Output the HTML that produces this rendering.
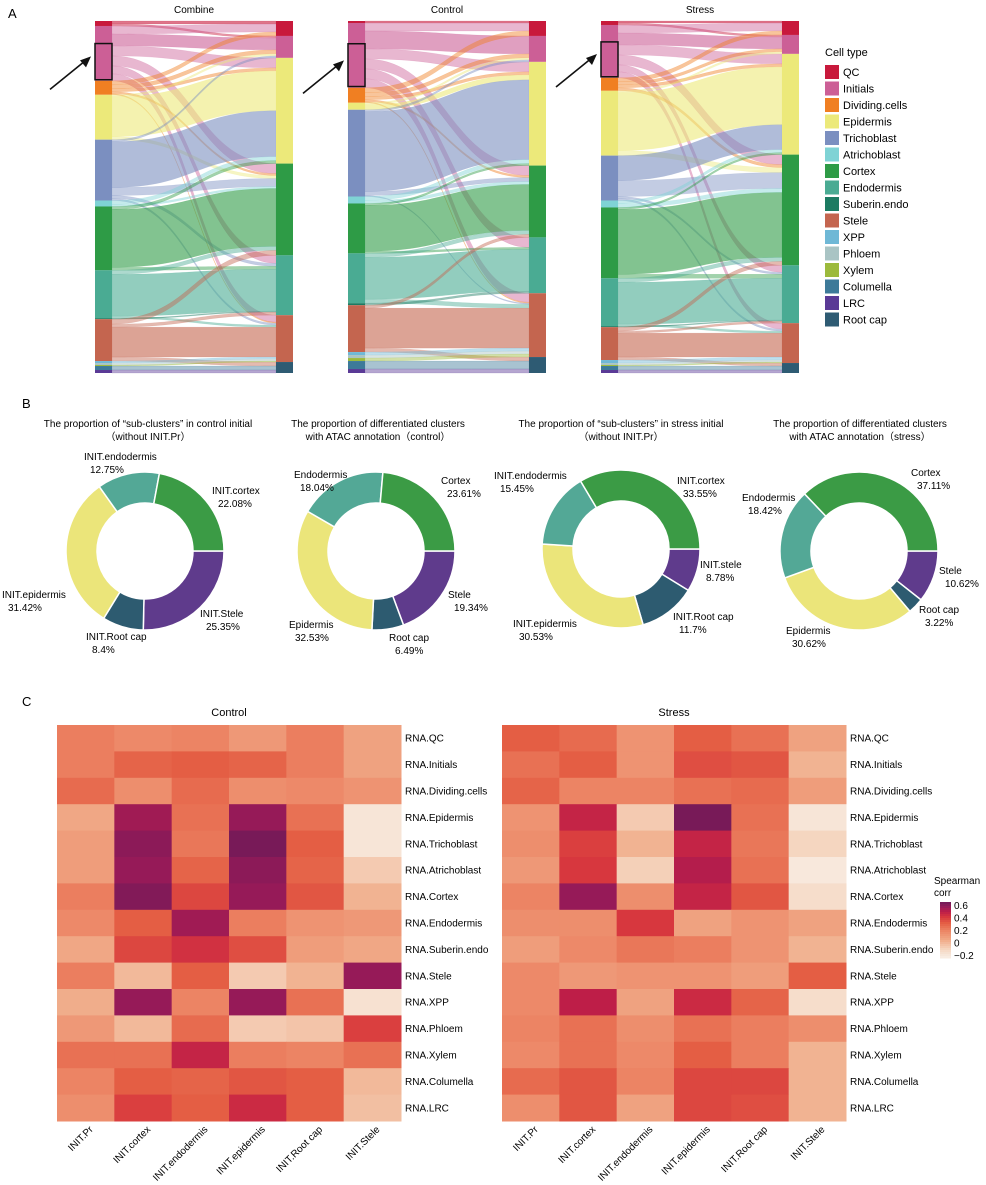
<!DOCTYPE html>
<html><head><meta charset="utf-8"><style>
html,body{margin:0;padding:0;background:#fff;}
svg{display:block;font-family:"Liberation Sans",Arial,sans-serif;}
</style></head><body>
<svg id="fig" width="986" height="1185" viewBox="0 0 986 1185" xmlns="http://www.w3.org/2000/svg">
<rect width="986" height="1185" fill="#fff"/>
<text x="8" y="18" font-size="13">A</text>
<text x="22" y="408" font-size="13">B</text>
<text x="22" y="706" font-size="13">C</text>
<g id="sankeys"></g><g id="legend"></g><g id="donuts"></g><g id="heatmaps"></g>
</svg>
<script>
const NS="http://www.w3.org/2000/svg";
function mk(tag,attrs,parent){const e=document.createElementNS(NS,tag);for(const k in attrs)e.setAttribute(k,attrs[k]);if(parent)parent.appendChild(e);return e;}
const svg=document.getElementById('fig');

// ---------- Cell type data ----------
const cellTypes=["QC","Initials","Dividing.cells","Epidermis","Trichoblast","Atrichoblast","Cortex","Endodermis","Suberin.endo","Stele","XPP","Phloem","Xylem","Columella","LRC","Root cap"];
const cellColors=["#c8193c","#cc5f96","#f07f22","#ece97a","#7b8fc0","#7fd3d5","#2e9b46","#4aab93","#1c7b62","#c4654f","#6fb8d6","#a9c4c4","#9cba3c","#3d7a99","#5a3a96","#2e5b73"];
const rightNodes=["QC","Initials","Epidermis","Cortex","Endodermis","Stele","Root cap"];

// flows: [source, target, value]
const flowsCombine=[["QC","QC",3],["QC","Initials",2],
["Initials","QC",8],["Initials","Initials",12],["Initials","Epidermis",10],["Initials","Cortex",10],["Initials","Endodermis",8],["Initials","Stele",7],
["Dividing.cells","QC",4],["Dividing.cells","Initials",4],["Dividing.cells","Epidermis",3],["Dividing.cells","Cortex",2],["Dividing.cells","Stele",1],
["Epidermis","Initials",2],["Epidermis","Epidermis",40],["Epidermis","Cortex",3],
["Trichoblast","Initials",2],["Trichoblast","Epidermis",46],["Trichoblast","Cortex",8],["Trichoblast","Endodermis",3],["Trichoblast","Stele",2],
["Atrichoblast","Epidermis",4],["Atrichoblast","Cortex",2],
["Cortex","Epidermis",3],["Cortex","Cortex",58],["Cortex","Endodermis",3],
["Endodermis","Cortex",4],["Endodermis","Endodermis",42],["Endodermis","Stele",2],
["Suberin.endo","Endodermis",1],
["Stele","Cortex",5],["Stele","Endodermis",3],["Stele","Stele",30],["Stele","Root cap",4],
["XPP","Stele",2],["Phloem","Stele",2],["Xylem","Stele",1],["Columella","Root cap",4],["LRC","Root cap",3]];
const flowsControl=[["QC","QC",2],
["Initials","QC",8],["Initials","Initials",18],["Initials","Epidermis",10],["Initials","Cortex",10],["Initials","Endodermis",10],["Initials","Stele",9],
["Dividing.cells","QC",5],["Dividing.cells","Initials",4],["Dividing.cells","Epidermis",3],["Dividing.cells","Cortex",2],["Dividing.cells","Stele",1],
["Epidermis","Initials",2],["Epidermis","Epidermis",5],
["Trichoblast","Initials",2],["Trichoblast","Epidermis",80],["Trichoblast","Cortex",4],["Trichoblast","Stele",1],
["Atrichoblast","Epidermis",4],["Atrichoblast","Cortex",3],
["Cortex","Epidermis",2],["Cortex","Cortex",46],["Cortex","Endodermis",2],
["Endodermis","Cortex",4],["Endodermis","Endodermis",42],["Endodermis","Stele",4],
["Suberin.endo","Endodermis",2],
["Stele","Cortex",3],["Stele","Stele",40],["Stele","Root cap",4],
["XPP","Stele",3],["Phloem","Stele",3],["Xylem","Stele",3],["Columella","Root cap",8],["LRC","Root cap",4]];
const flowsStress=[["QC","QC",2],["QC","Initials",2],
["Initials","QC",8],["Initials","Initials",12],["Initials","Epidermis",10],["Initials","Cortex",10],["Initials","Endodermis",7],["Initials","Stele",6],
["Dividing.cells","QC",4],["Dividing.cells","Initials",3],["Dividing.cells","Epidermis",3],["Dividing.cells","Cortex",3],
["Epidermis","Initials",2],["Epidermis","Epidermis",58],["Epidermis","Cortex",5],
["Trichoblast","Epidermis",25],["Trichoblast","Cortex",16],["Trichoblast","Endodermis",2],["Trichoblast","Stele",2],
["Atrichoblast","Epidermis",3],["Atrichoblast","Cortex",4],
["Cortex","Epidermis",2],["Cortex","Cortex",65],["Cortex","Endodermis",4],
["Endodermis","Cortex",4],["Endodermis","Endodermis",42],["Endodermis","Stele",2],
["Suberin.endo","Endodermis",1],
["Stele","Cortex",4],["Stele","Endodermis",2],["Stele","Stele",24],["Stele","Root cap",3],
["XPP","Stele",3],["Phloem","Stele",2],["Xylem","Stele",1],["Columella","Root cap",4],["LRC","Root cap",3]];
const sankeyTitles=["Combine","Control","Stress"];

// ---------- Donut data ----------
const donutTitles=[["The proportion of \u201csub-clusters\u201d in control initial","\uff08without INIT.Pr\uff09"],["The proportion of  differentiated clusters","with ATAC annotation\uff08control\uff09"],["The proportion of \u201csub-clusters\u201d in stress initial","\uff08without INIT.Pr\uff09"],["The proportion of  differentiated clusters","with ATAC annotation\uff08stress\uff09"]];
const donutLabels1=["INIT.Stele","INIT.Root cap","INIT.epidermis","INIT.endodermis","INIT.cortex"];
const donutLabels2=["Stele","Root cap","Epidermis","Endodermis","Cortex"];
const donutLabels3=["INIT.stele","INIT.Root cap","INIT.epidermis","INIT.endodermis","INIT.cortex"];
const donutValues1=[25.35,8.4,31.42,12.75,22.08];
const donutValues2=[19.34,6.49,32.53,18.04,23.61];
const donutValues3=[8.78,11.7,30.53,15.45,33.55];
const donutValues4=[10.62,3.22,30.62,18.42,37.11];
const donutColors=["#5f3b8c","#2d5b70","#ebe57a","#53a896","#3b9b45"];

// ---------- Heatmap data ----------
const hmCols=["INIT.Pr","INIT.cortex","INIT.endodermis","INIT.epidermis","INIT.Root cap","INIT.Stele"];
const hmRows=["RNA.QC","RNA.Initials","RNA.Dividing.cells","RNA.Epidermis","RNA.Trichoblast","RNA.Atrichoblast","RNA.Cortex","RNA.Endodermis","RNA.Suberin.endo","RNA.Stele","RNA.XPP","RNA.Phloem","RNA.Xylem","RNA.Columella","RNA.LRC"];
const hmControl=[
[0.22,0.18,0.2,0.12,0.22,0.08],[0.22,0.3,0.32,0.3,0.22,0.08],[0.28,0.16,0.28,0.16,0.18,0.14],
[0.06,0.56,0.26,0.58,0.26,-0.18],[0.1,0.6,0.24,0.64,0.32,-0.18],[0.1,0.58,0.3,0.6,0.3,-0.06],
[0.22,0.62,0.38,0.58,0.34,0.02],[0.18,0.32,0.56,0.22,0.14,0.12],[0.06,0.38,0.44,0.36,0.1,0.06],
[0.22,0.0,0.32,-0.06,0.02,0.58],[0.04,0.58,0.2,0.58,0.26,-0.16],[0.12,0.0,0.28,-0.06,-0.04,0.4],
[0.26,0.26,0.48,0.22,0.2,0.26],[0.2,0.32,0.3,0.34,0.32,0.0],[0.16,0.4,0.32,0.46,0.32,-0.02]];
const hmStress=[
[0.32,0.28,0.14,0.32,0.26,0.08],[0.26,0.32,0.14,0.36,0.34,0.02],[0.3,0.2,0.2,0.26,0.28,0.1],
[0.14,0.48,-0.06,0.64,0.26,-0.18],[0.16,0.4,0.02,0.48,0.24,-0.1],[0.12,0.42,-0.08,0.52,0.26,-0.2],
[0.2,0.58,0.16,0.48,0.34,-0.14],[0.16,0.16,0.42,0.08,0.14,0.08],[0.1,0.18,0.24,0.22,0.14,0.02],
[0.18,0.12,0.14,0.14,0.1,0.32],[0.18,0.5,0.08,0.46,0.3,-0.14],[0.2,0.26,0.16,0.26,0.22,0.16],
[0.18,0.26,0.18,0.32,0.22,0.02],[0.28,0.34,0.2,0.38,0.38,0.02],[0.16,0.34,0.08,0.38,0.36,0.02]];
const cbTicks=[0.6,0.4,0.2,0,-0.2];

// ---------- Sankey ----------
const colorOf=n=>cellColors[cellTypes.indexOf(n)];
function sankey(flows,x0,title,idx){
  const g=mk('g',{},document.getElementById('sankeys'));
  
  
  const top=21,H=352,nw=17,x1=x0+181;
  const total=flows.reduce((a,f)=>a+f[2],0);const k=H/total;
  const t=mk('text',{x:x0+99,y:13,'font-size':10,'text-anchor':'middle'},g);t.textContent=title;
  
  
  const lTot={},rTot={};
  flows.forEach(f=>{lTot[f[0]]=(lTot[f[0]]||0)+f[2];rTot[f[1]]=(rTot[f[1]]||0)+f[2];});
  const lY={},rY={};let y=top;
  cellTypes.forEach(n=>{if(lTot[n]){lY[n]=y;y+=lTot[n]*k;}});
  y=top;rightNodes.forEach(n=>{if(rTot[n]){rY[n]=y;y+=rTot[n]*k;}});
  const lOff={...lY};const rOff={...rY};
  const sorted=flows.slice().sort((a,b)=>rightNodes.indexOf(a[1])-rightNodes.indexOf(b[1])||cellTypes.indexOf(a[0])-cellTypes.indexOf(b[0]));
  const tgtPos=new Map();
  sorted.forEach(f=>{tgtPos.set(f,rOff[f[1]]);rOff[f[1]]+=f[2]*k;});
  flows.forEach(f=>{
    const h=f[2]*k,ys=lOff[f[0]];lOff[f[0]]+=h;const yt=tgtPos.get(f);
    const xa=x0+nw,xb=x1,mx=(xa+xb)/2;
    const p=mk('path',{d:`M${xa},${ys}C${mx},${ys} ${mx},${yt} ${xb},${yt}L${xb},${yt+h}C${mx},${yt+h} ${mx},${ys+h} ${xa},${ys+h}Z`,fill:colorOf(f[0]),'fill-opacity':f[0]===f[1]||(f[0]=='Trichoblast'&&f[1]=='Epidermis')?0.6:0.45,stroke:colorOf(f[0]),'stroke-opacity':0.25,'stroke-width':0.5},g);
    
    
  });
  cellTypes.forEach(n=>{if(lTot[n]){const r=mk('rect',{x:x0,y:lY[n],width:nw,height:lTot[n]*k,fill:colorOf(n)},g);
    
    }});
  rightNodes.forEach(n=>{if(rTot[n]){const r=mk('rect',{x:x1,y:rY[n],width:nw,height:rTot[n]*k,fill:colorOf(n)},g);
    
    }});
  const iy=lY["Initials"],ih=lTot["Initials"]*k;
  const b=mk('rect',{x:x0,y:iy+ih*0.32,width:nw,height:ih*0.66,fill:'none',stroke:'#111','stroke-width':1.5},g);
  
  
  const ay=iy+ih*0.7;
  const a=mk('path',{d:`M${x0-45},${ay+25}L${x0-8},${ay-5}`,stroke:'#111','stroke-width':1.6,fill:'none'},g);
  
  
  const ah=mk('path',{d:`M${x0-4},${ay-8}L${x0-15},${ay-4}L${x0-9},${ay+3}Z`,fill:'#111'},g);
  
  
}
sankey(flowsCombine,95,sankeyTitles[0],0);
sankey(flowsControl,348,sankeyTitles[1],1);
sankey(flowsStress,601,sankeyTitles[2],2);

// legend
(function(){
  const g=document.getElementById('legend');
  
  
  const t=mk('text',{x:825,y:56,'font-size':11},g);t.textContent="Cell type";
  
  
  cellTypes.forEach((n,i)=>{
    const y=65+i*16.5;
    const r=mk('rect',{x:825,y:y,width:14,height:14,fill:cellColors[i]},g);
    
    
    const tx=mk('text',{x:843,y:y+11,'font-size':11},g);tx.textContent=n;
    
    
  });
})();

// ---------- Donuts ----------
const donutCenters=[[145,551],[376,551],[621,549],[859,551]];
const donutSets=[[donutValues1,donutLabels1],[donutValues2,donutLabels2],[donutValues3,donutLabels3],[donutValues4,donutLabels2]];
const donutLabelPos=[
 [[200,617],[86,640],[2,598],[84,460],[212,494]],
 [[448,598],[389,641],[289,628],[294,478],[441,484]],
 [[700,568],[673,620],[513,627],[494,479],[677,484]],
 [[939,574],[919,613],[786,634],[742,501],[911,476]]];
function donut(i){
  const g=mk('g',{},document.getElementById('donuts'));
  
  
  const [cx,cy]=donutCenters[i];const R=79,r=48;
  const [vals,labs]=donutSets[i];const tot=vals.reduce((a,b)=>a+b,0);
  const tcx=[148,378,621,860][i];
  donutTitles[i].forEach((s,j)=>{const t=mk('text',{x:tcx,y:427+j*13,'font-size':10,'text-anchor':'middle'},g);t.textContent=s;
    
    });
  let a=0;
  vals.forEach((v,j)=>{
    const a0=a,a1=a+v/tot*2*Math.PI;a=a1;
    const P=(rad,an)=>[cx+rad*Math.cos(an),cy+rad*Math.sin(an)];
    const lg=(a1-a0)>Math.PI?1:0;
    const [x1,y1]=P(R,a0),[x2,y2]=P(R,a1),[x3,y3]=P(r,a1),[x4,y4]=P(r,a0);
    const p=mk('path',{d:`M${x1},${y1}A${R},${R} 0 ${lg} 1 ${x2},${y2}L${x3},${y3}A${r},${r} 0 ${lg} 0 ${x4},${y4}Z`,fill:donutColors[j],stroke:'#fff','stroke-width':1.5},g);
    
    
    const [lx,ly]=donutLabelPos[i][j];
    const t1=mk('text',{x:lx,y:ly,'font-size':10},g);t1.textContent=labs[j];
    
    
    const t2=mk('text',{x:lx+6,y:ly+13,'font-size':10},g);t2.textContent=v+'%';
    
    
  });
}
[0,1,2,3].forEach(donut);

// ---------- Heatmaps ----------
const stops=[[-0.22,[248,236,226]],[-0.1,[245,214,192]],[0.05,[240,170,135]],[0.2,[236,132,100]],[0.32,[228,94,68]],[0.42,[215,55,62]],[0.5,[190,30,72]],[0.58,[150,26,88]],[0.66,[110,26,88]]];
function cmap(v){
  if(v<=stops[0][0])return `rgb(${stops[0][1]})`;
  for(let i=1;i<stops.length;i++){if(v<=stops[i][0]){const [a,ca]=stops[i-1],[b,cb]=stops[i];const t=(v-a)/(b-a);
    return 'rgb('+ca.map((c,j)=>Math.round(c+(cb[j]-c)*t)).join(',')+')';}}
  return `rgb(${stops[stops.length-1][1]})`;
}
function heatmap(data,x0,title){
  const g=mk('g',{},document.getElementById('heatmaps'));
  
  
  const y0=725,W=344,H=396,cw=W/hmCols.length,ch=H/hmRows.length;
  const t=mk('text',{x:x0+W/2,y:716,'font-size':11,'text-anchor':'middle'},g);t.textContent=title;
  
  
  data.forEach((row,i)=>row.forEach((v,j)=>{
    const r=mk('rect',{x:x0+j*cw,y:y0+i*ch,width:cw+0.5,height:ch+0.5,fill:cmap(v)},g);
    
    
  }));
  hmRows.forEach((n,i)=>{const tx=mk('text',{x:x0+W+4,y:y0+i*ch+ch/2+3.5,'font-size':10},g);tx.textContent=n;
    
    });
  hmCols.forEach((n,j)=>{const cx=x0+j*cw+cw/2+8,cy=y0+H+9;
    const tx=mk('text',{x:cx,y:cy,'font-size':10,'text-anchor':'end',transform:`rotate(-45 ${cx} ${cy})`},g);tx.textContent=n;
    
    });
}
heatmap(hmControl,57,"Control");
heatmap(hmStress,502,"Stress");

// colorbar
(function(){
  const g=mk('g',{},document.getElementById('heatmaps'));
  
  
  const t1=mk('text',{x:934,y:884,'font-size':10},g);t1.textContent="Spearman";
  
  
  const t2=mk('text',{x:934,y:896,'font-size':10},g);t2.textContent="corr";
  
  
  const top=902,bot=958,vmax=0.66,vmin=-0.24;
  const ys=v=>top+(vmax-v)/(vmax-vmin)*(bot-top);
  for(let i=0;i<28;i++){const v=vmax-(i+0.5)/28*(vmax-vmin);
    const r=mk('rect',{x:940,y:top+i*(bot-top)/28,width:11,height:(bot-top)/28+0.5,fill:cmap(v)},g);
    
    }
  cbTicks.forEach(v=>{const tx=mk('text',{x:954,y:ys(v)+3.5,'font-size':10},g);tx.textContent=(v<0?'\u2212'+Math.abs(v):v);
    
    });
})();
</script>
</body></html>
